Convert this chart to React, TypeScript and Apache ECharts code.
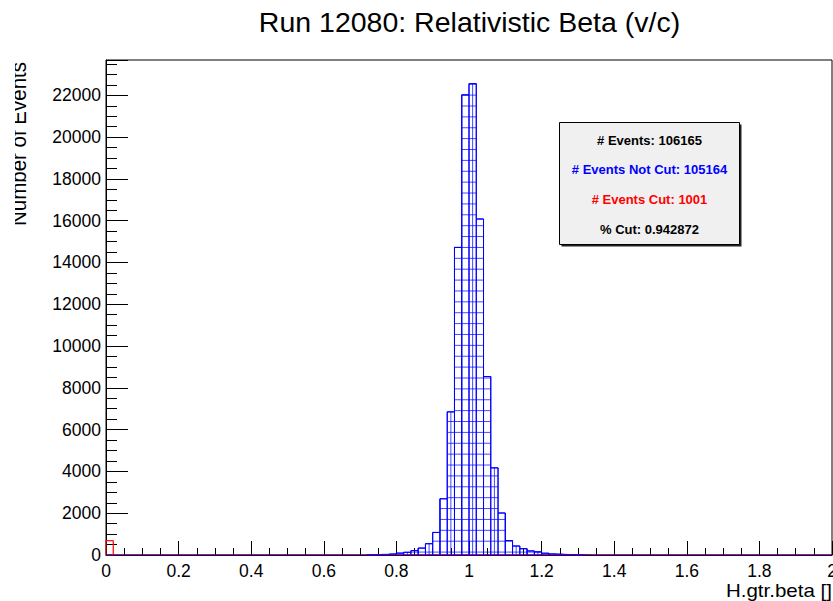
import { useEffect, useRef } from "react";
import * as echarts from "echarts";

const TITLE = "Run 12080: Relativistic Beta (v/c)";
const X_TITLE = "H.gtr.beta []";
const Y_TITLE = "Number of Events";

// Histogram binning: 100 bins over beta in [0, 2]
const BIN_COUNT = 100;
const X_MIN = 0;
const X_MAX = 2;
const Y_TOP = 23690;

// Events passing the cut, by lower bin edge
const notCutEdges = [
  0.72, 0.74, 0.76, 0.78, 0.8, 0.82, 0.84, 0.86, 0.88, 0.9, 0.92, 0.94, 0.96,
  0.98, 1.0, 1.02, 1.04, 1.06, 1.08, 1.1, 1.12, 1.14, 1.16, 1.18, 1.2, 1.22,
  1.24, 1.26, 1.28, 1.3,
];
const notCutCounts = [
  10, 15, 30, 50, 90, 130, 210, 330, 540, 1080, 2690, 6850, 14720, 22020,
  22560, 16080, 8540, 4170, 2010, 690, 430, 300, 195, 150, 85, 50, 35, 20, 12,
  8,
];

// Events removed by the cut, by lower bin edge
const cutEdges = [0.0];
const cutCounts = [685];

const statLines = [
  "# Events: 106165",
  "# Events Not Cut: 105164",
  "# Events Cut: 1001",
  "% Cut: 0.942872",
];
const statColors = ["#000000", "#0000ff", "#ff0000", "#000000"];

const FONT = "'Liberation Sans', Arial, Helvetica, sans-serif";

// Cross-hatch fill (screen-space grid, like a ROOT fill pattern)
const HATCH_STEP = 10.88;
const HATCH_X0 = 440;
const HATCH_Y0 = 106;
const HATCH_COLOR = "rgba(0,0,255,0.72)";

const binWidth = (X_MAX - X_MIN) / BIN_COUNT;

function fillBins(edges: number[], counts: number[]): number[] {
  const out = new Array(BIN_COUNT).fill(0);
  edges.forEach((e, i) => {
    out[Math.round((e - X_MIN) / binWidth)] = counts[i];
  });
  return out;
}

const notCutBins = fillBins(notCutEdges, notCutCounts);
const cutBins = fillBins(cutEdges, cutCounts);

const binData = (bins: number[]) =>
  bins.map((v, i) => [X_MIN + i * binWidth, X_MIN + (i + 1) * binWidth, v]);
const stepData = (bins: number[]) =>
  bins
    .map((v, i) => [X_MIN + i * binWidth, v])
    .concat([[X_MAX, bins[bins.length - 1]]]);

function firstAbove(start: number, phase: number, step: number) {
  return phase + Math.ceil((start - phase) / step) * step;
}

function makeBinRenderer(stroke: string, hatch: boolean) {
  return (_params: any, api: any) => {
    const count = api.value(2);
    if (!count) return null;
    const p0 = api.coord([api.value(0), 0]);
    const p1 = api.coord([api.value(1), count]);
    const x0 = p0[0];
    const x1 = p1[0];
    const yb = p0[1];
    const yt = p1[1];
    const children: any[] = [];
    if (hatch) {
      for (let x = firstAbove(x0, HATCH_X0, HATCH_STEP); x < x1; x += HATCH_STEP) {
        children.push({
          type: "line",
          shape: { x1: x, y1: yt, x2: x, y2: yb },
          style: { stroke: HATCH_COLOR, lineWidth: 1 },
        });
      }
      for (let y = firstAbove(yt, HATCH_Y0, HATCH_STEP); y < yb; y += HATCH_STEP) {
        children.push({
          type: "line",
          shape: { x1: x0, y1: y, x2: x1, y2: y },
          style: { stroke: HATCH_COLOR, lineWidth: 1 },
        });
      }
    }
    children.push({
      type: "rect",
      shape: { x: x0, y: yt, width: x1 - x0, height: yb - yt },
      style: { fill: "none", stroke, lineWidth: 1 },
    });
    return { type: "group", children };
  };
}

export default function App() {
  const ref = useRef<HTMLDivElement>(null);

  useEffect(() => {
    if (!ref.current) return;
    const chart = echarts.init(ref.current, null, { renderer: "svg" });

    const axisLine = { show: true, lineStyle: { color: "#000", width: 1 } };
    const tickStyle = { color: "#000", width: 1 };

    chart.setOption({
      animation: false,
      backgroundColor: "#ffffff",
      grid: {
        left: 106,
        right: 1,
        top: 60,
        bottom: 46,
        show: true,
        borderColor: "#000",
        borderWidth: 1,
        backgroundColor: "transparent",
        outerBoundsMode: "none",
      },
      xAxis: [
        {
          type: "value",
          position: "bottom",
          min: X_MIN,
          max: X_MAX,
          interval: 0.2,
          axisLine,
          axisTick: { show: true, inside: true, length: 14, lineStyle: tickStyle },
          minorTick: { show: true, splitNumber: 4, length: 7, lineStyle: tickStyle },
          axisLabel: {
            color: "#000",
            fontSize: 17.5,
            fontFamily: FONT,
            margin: 7,
          },
          splitLine: { show: false },
          minorSplitLine: { show: false },
        },
      ],
      yAxis: [
        {
          type: "value",
          position: "left",
          min: 0,
          max: Y_TOP,
          interval: 500,
          axisLine,
          axisTick: { show: true, inside: true, length: 11, lineStyle: tickStyle },
          axisLabel: {
            color: "#000",
            fontSize: 17.5,
            fontFamily: FONT,
            margin: 5,
            formatter: (v: number) => (v % 2000 === 0 ? String(v) : ""),
          },
          splitLine: { show: false },
        },
        {
          type: "value",
          position: "left",
          min: 0,
          max: Y_TOP,
          interval: 2000,
          axisLine: { show: false },
          axisTick: { show: true, inside: true, length: 22, lineStyle: tickStyle },
          axisLabel: { show: false },
          splitLine: { show: false },
        },
      ],
      series: [
        {
          name: "Not Cut",
          type: "custom",
          xAxisIndex: 0,
          yAxisIndex: 0,
          data: binData(notCutBins),
          encode: { x: [0, 1], y: 2 },
          silent: true,
          renderItem: makeBinRenderer("#0000ff", true),
        },
        {
          name: "Cut",
          type: "custom",
          xAxisIndex: 0,
          yAxisIndex: 0,
          data: binData(cutBins),
          encode: { x: [0, 1], y: 2 },
          silent: true,
          renderItem: makeBinRenderer("#ff0000", false),
        },
        {
          name: "Not Cut outline",
          type: "line",
          step: "end",
          data: stepData(notCutBins),
          showSymbol: false,
          silent: true,
          lineStyle: { color: "#0000ff", width: 1 },
        },
        {
          name: "Cut outline",
          type: "line",
          step: "end",
          data: stepData(cutBins),
          showSymbol: false,
          silent: true,
          lineStyle: { color: "#ff0000", width: 1, opacity: 0.6 },
        },
      ],
      graphic: [
        {
          type: "text",
          x: 469.5,
          y: 22,
          style: {
            text: TITLE,
            fontSize: 28.5,
            fontFamily: FONT,
            fill: "#000",
            align: "center",
            verticalAlign: "middle",
          },
        },
        {
          type: "text",
          x: 832,
          y: 591,
          scaleX: 1.14,
          style: {
            text: X_TITLE,
            fontSize: 18,
            fontFamily: FONT,
            fill: "#000",
            align: "right",
            verticalAlign: "middle",
          },
        },
        {
          type: "text",
          x: 18.5,
          y: 62,
          rotation: Math.PI / 2,
          scaleY: 1.12,
          style: {
            text: Y_TITLE,
            fontSize: 20.5,
            fontFamily: FONT,
            fill: "#000",
            align: "right",
            verticalAlign: "middle",
          },
        },
        {
          type: "rect",
          z: 100,
          shape: { x: 0, y: 50, width: 15, height: 190 },
          style: { fill: "#ffffff" },
        },
        {
          type: "rect",
          z: 100,
          shape: { x: 561.5, y: 124.5, width: 180, height: 122 },
          style: { fill: "#222222" },
        },
        {
          type: "rect",
          z: 101,
          shape: { x: 559.5, y: 122.5, width: 180, height: 122 },
          style: { fill: "#f0f0f0", stroke: "#000", lineWidth: 1 },
        },
        ...statLines.map((t, i) => ({
          type: "text",
          z: 102,
          x: 649.5,
          y: 140 + i * 29.7,
          style: {
            text: t,
            fontSize: 13,
            fontWeight: "bold",
            fontFamily: FONT,
            fill: statColors[i],
            align: "center",
            verticalAlign: "middle",
          },
        })),
      ],
    });

    return () => chart.dispose();
  }, []);

  return (
    <div
      ref={ref}
      style={{ position: "fixed", left: 0, top: 0, width: 833, height: 601 }}
    />
  );
}
